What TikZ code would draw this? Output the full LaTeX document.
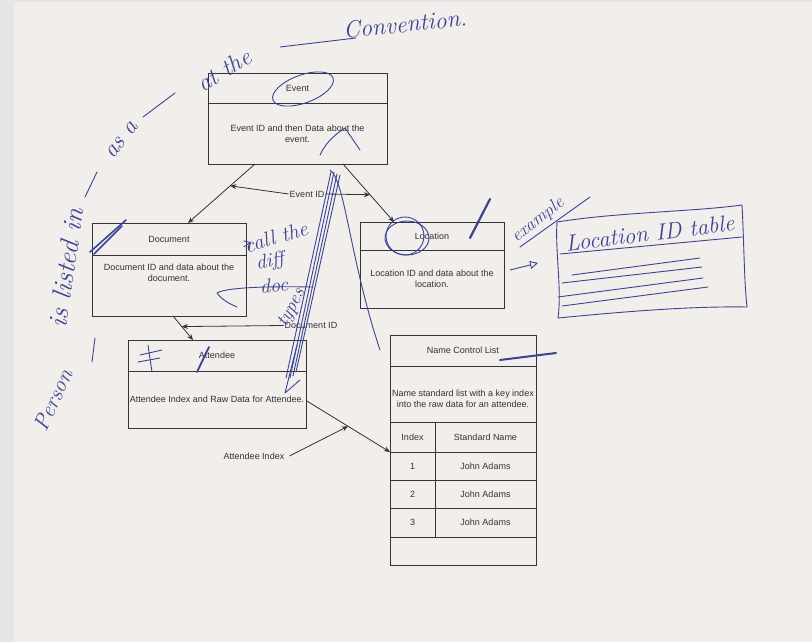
\documentclass[tikz,border=0pt]{standalone}
\usepackage{fontspec}
\usepackage{xcolor}
\usetikzlibrary{positioning,calc,arrows.meta}

\newfontfamily\printfont{Liberation Sans}

\definecolor{paper}{HTML}{F1EEEC}
\definecolor{edge}{HTML}{E6E6E6}
\definecolor{ink}{HTML}{333333}
\definecolor{pen}{HTML}{3B4394}

\begin{document}
\begin{tikzpicture}[
    x=1pt, y=-1pt,
    every node/.style={inner sep=1pt},
    box/.style={draw=ink, line width=0.8pt, outer sep=0pt, align=center, text=ink,
        font=\printfont\fontsize{9}{11}\selectfont},
    txt/.style={align=center, text=ink, font=\printfont\fontsize{9}{11}\selectfont},
    flow/.style={draw=ink, line width=0.8pt, -{Stealth[length=6pt,width=5pt]}},
    hand/.style={text=pen, font=\itshape\fontsize{24}{24}\selectfont},
    stroke/.style={draw=pen, line width=0.9pt, line cap=round, line join=round}
]

% paper
\useasboundingbox (0,0) rectangle (812,642);
\fill[edge] (0,0) rectangle (812,642);
\fill[paper] (14,2) rectangle (812,642);

%==================== Event ====================
\node[box, minimum width=179pt, minimum height=30pt] (evtT) at (297.5,88) {Event};
\node[box, minimum width=179pt, minimum height=61pt, below=0pt of evtT] (evtB)
    {Event ID and then Data about the\\event.};

%==================== Document ====================
\node[box, minimum width=154pt, minimum height=32pt] (docT) at (169,239) {Document};
\node[box, minimum width=154pt, minimum height=61pt, below=0pt of docT] (docB) {};
\node[txt, below=8pt of docT] (docTx) {Document ID and data about the\\document.};

%==================== Location ====================
\node[box, minimum width=144pt, minimum height=28pt] (locT) at (432,236) {Location};
\node[box, minimum width=144pt, minimum height=58pt, below=0pt of locT] (locB)
    {Location ID and data about the\\location.};

%==================== Attendee ====================
\node[box, minimum width=178pt, minimum height=31pt] (attT) at (217,355.5) {Attendee};
\node[box, minimum width=178pt, minimum height=57pt, below=0pt of attT] (attB)
    {Attendee Index and Raw Data for Attendee.};

%==================== Name Control List ====================
\node[box, minimum width=146pt, minimum height=31pt] (ncT) at (463,350.5) {Name Control List};
\node[box, minimum width=146pt, minimum height=56pt, below=0pt of ncT] (ncB) {};
\node[txt, below=23pt of ncT] (ncTx) {Name standard list with a key index\\into the raw data for an attendee.};
\node[box, minimum width=45pt, minimum height=30pt, anchor=north west] (hIdx) at (ncB.south west) {Index};
\node[box, minimum width=101pt, minimum height=30pt, anchor=north west] (hName) at (hIdx.north east) {Standard Name};
\node[box, minimum width=45pt, minimum height=28pt, anchor=north west] (r1a) at (hIdx.south west) {1};
\node[box, minimum width=101pt, minimum height=28pt, anchor=north west] (r1b) at (r1a.north east) {John Adams};
\node[box, minimum width=45pt, minimum height=28pt, anchor=north west] (r2a) at (r1a.south west) {2};
\node[box, minimum width=101pt, minimum height=28pt, anchor=north west] (r2b) at (r2a.north east) {John Adams};
\node[box, minimum width=45pt, minimum height=29pt, anchor=north west] (r3a) at (r2a.south west) {3};
\node[box, minimum width=101pt, minimum height=29pt, anchor=north west] (r3b) at (r3a.north east) {John Adams};
\node[box, minimum width=146pt, minimum height=28pt, anchor=north west] (rEnd) at (r3a.south west) {};

%==================== Relations ====================
\coordinate (e1) at ([xshift=47pt]evtB.south west);
\coordinate (e2) at ([xshift=-44pt]evtB.south east);
\coordinate (d1) at ([xshift=96pt]docT.north west);
\coordinate (l1) at ([xshift=34pt]locT.north west);
\coordinate (d2) at ([xshift=81pt]docB.south west);
\coordinate (a1) at ([xshift=65pt]attT.north west);
\coordinate (a2) at ([yshift=-1pt]attB.east);
\coordinate (n1) at ([yshift=14pt]r1a.west);

\draw[flow] (e1) -- (d1);
\draw[flow] (e2) -- (l1);
\draw[flow] (d2) -- (a1);
\draw[flow] (a2) -- (n1);

% labels on the relations
\node[txt] (evId) at (307,194) {Event ID};
\node[txt] (docId) at (311,325.5) {Document ID};
\node[txt] (attIdx) at (254,456) {Attendee Index};
\draw[flow] (evId.west) -- ($(e1)!0.37!(d1)$);
\draw[flow] (evId.east) -- ($(e2)!0.53!(l1)$);
\draw[flow] (docId.west) -- ($(d2)!0.44!(a1)$);
\draw[flow] ([xshift=4pt]attIdx.east) -- ($(a2)!0.5!(n1)$);

%==================== Pen notes ====================
\node[hand, rotate=6] (conv) at (405,24) {Convention.};
\node[hand, rotate=32] (atThe) at (224,70) {at the};
\node[hand, rotate=52] (asA) at (122,140) {as a};
\node[hand, rotate=82, font=\itshape\fontsize{27}{27}\selectfont] (listed) at (66,268) {is listed in};
\node[hand, rotate=66, font=\itshape\fontsize{22}{22}\selectfont] (person) at (53,400) {Person};
\draw[stroke] (280,47) -- (356,38);
\draw[stroke] (143,117) -- (175,93);
\draw[stroke] (85,197) -- (97,172);
\draw[stroke] (95,338) -- (92,362);

% doc type note
\node[hand, rotate=17, font=\itshape\fontsize{21}{21}\selectfont] (callThe) at (276,237) {call the};
\node[hand, rotate=10, font=\itshape\fontsize{20}{20}\selectfont] (diff) at (270,262) {diff};
\node[hand, rotate=5, font=\itshape\fontsize{20}{20}\selectfont] (docTy) at (274,285) {doc};
\node[hand, rotate=62, font=\itshape\fontsize{19}{19}\selectfont] (types) at (292,308) {types};
\draw[stroke, -{Straight Barb[length=5pt]}] (callThe.west) -- (251,242);
\draw[stroke] (313,287) .. controls (260,286) and (225,288) .. (217,293) .. controls (222,300) and (230,304) .. (237,307);

% example table
\node[hand, rotate=38, font=\itshape\fontsize{18}{18}\selectfont] (exmp) at (538,220) {example};
\draw[stroke] (520,247) -- (590,197);
\draw[stroke, -{Triangle[open, length=8pt, width=8pt]}] (510,270) -- (538,263);
\draw[stroke] (557,222) .. controls (620,212) and (690,212) .. (742,205)
    .. controls (744,240) and (744,280) .. (747,307)
    .. controls (690,306) and (620,312) .. (558,318)
    .. controls (562,290) and (555,250) .. (557,222);
\node[hand, rotate=7, font=\itshape\fontsize{23}{23}\selectfont] (locTab) at (650,233) {Location ID table};
\draw[stroke] (560,254) -- (742,237);
\draw[stroke] (572,275) -- (700,258);
\draw[stroke] (562,283) -- (702,267);
\draw[stroke] (558,297) -- (703,278);
\draw[stroke] (562,306) -- (708,287);

% marks on the printed diagram
\draw[stroke, rotate around={20:(303,89)}] (303,89) ellipse (32pt and 14pt);
\draw[stroke] (405,236) circle (19pt);
\draw[stroke] (407,238) ellipse (22pt and 17pt);
\draw[stroke, line width=2.2pt] (470,238) -- (490,199);
\draw[stroke, line width=1.6pt] (90,252) -- (126,220);
\draw[stroke, line width=1.6pt] (94,254) -- (122,226);
\draw[stroke] (140,355) -- (162,350);
\draw[stroke] (138,362) -- (160,358);
\draw[stroke] (148,345) -- (152,372);
\draw[stroke, line width=1.8pt] (197,372) -- (209,347);
\draw[stroke, line width=2pt] (500,360) -- (556,353);
\draw[stroke] (286,378) -- (331,172);
\draw[stroke] (290,378) -- (334,172);
\draw[stroke] (293,376) -- (337,174);
\draw[stroke] (296,372) -- (340,175);
\draw[stroke] (330,170) .. controls (345,180) and (350,260) .. (380,350);
\draw[stroke] (297,345) -- (285,393) -- (300,380);
\draw[stroke] (320,155) .. controls (325,145) and (330,138) .. (345,128) -- (360,150);

\end{tikzpicture}
\end{document}
